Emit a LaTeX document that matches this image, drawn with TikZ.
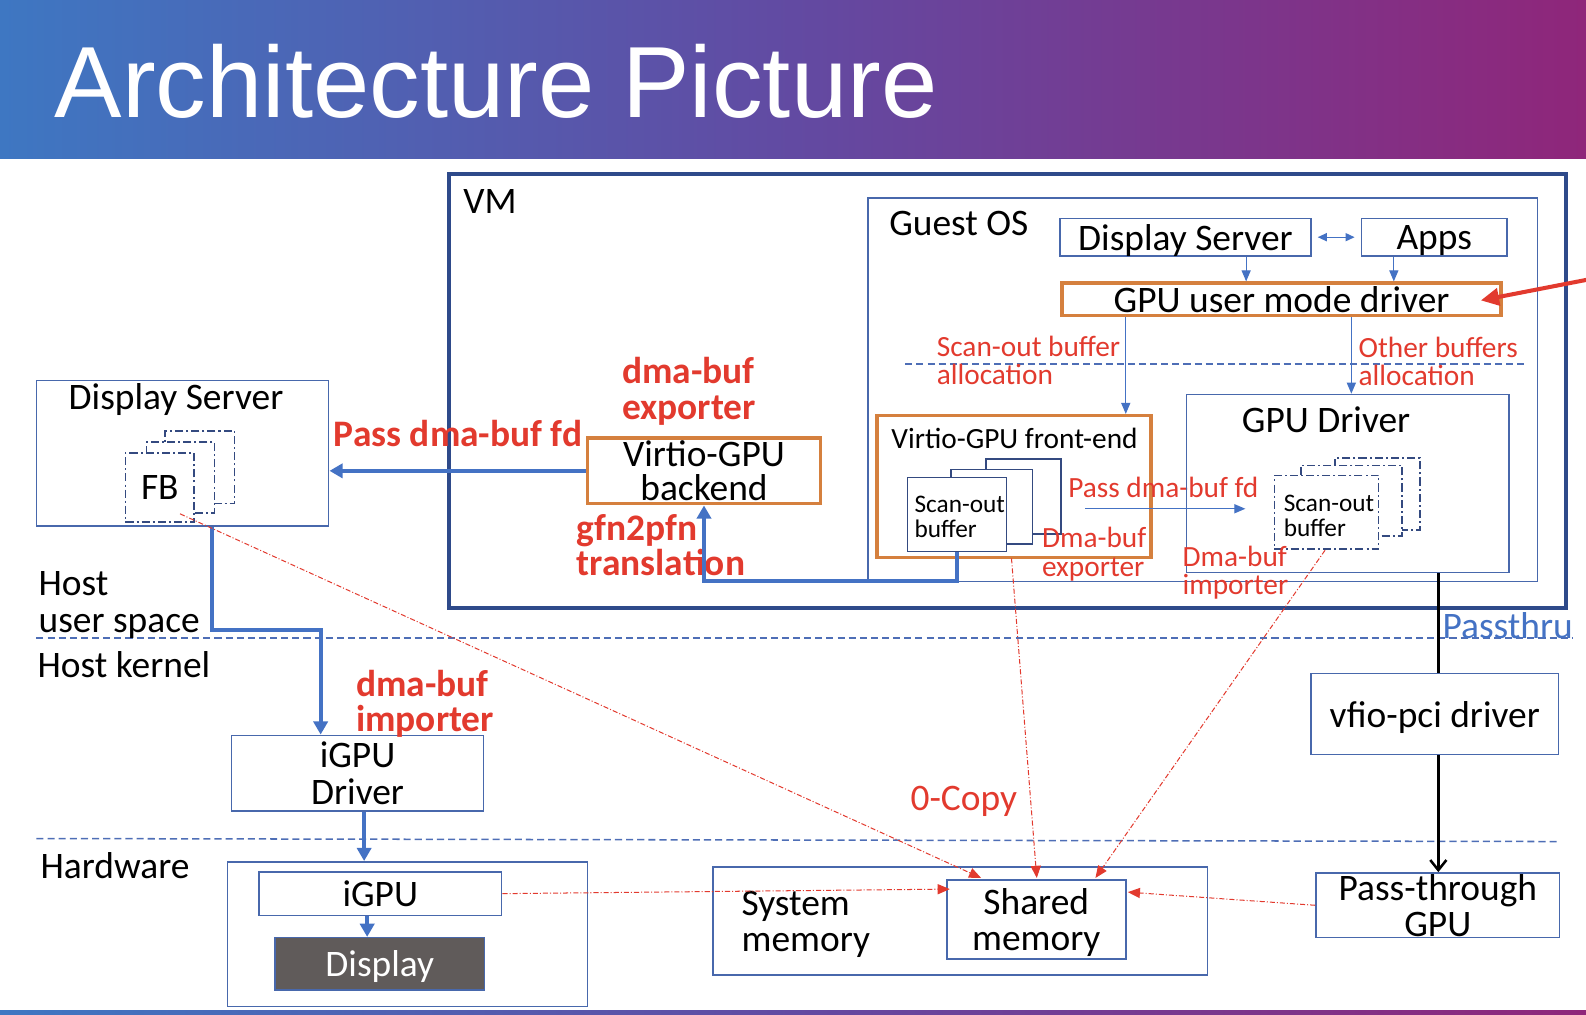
\documentclass[tikz,border=0pt]{standalone}
\usepackage{fontspec}
\setmainfont{Carlito}
\newfontfamily\titlefont{Liberation Sans}
\usetikzlibrary{arrows.meta,calc}
\definecolor{boxblue}{RGB}{72,104,172}
\definecolor{arrblue}{RGB}{68,114,196}
\definecolor{navy}{RGB}{46,74,138}
\definecolor{orng}{RGB}{213,128,62}
\definecolor{rd}{RGB}{226,58,46}
\definecolor{dgray}{RGB}{96,91,90}
\definecolor{dashblue}{RGB}{78,110,182}
\definecolor{stackblue}{RGB}{52,74,128}
\definecolor{hdA}{RGB}{62,119,194}
\definecolor{hdB}{RGB}{98,74,162}
\definecolor{hdC}{RGB}{143,38,122}
\newcommand\fs[2]{\fontsize{#1}{#2}\selectfont}
\newcommand\mkbox[8][]{\node[#2,#1,minimum width={#6-#4},minimum height={#7-#5}] (#3) at ({(#4+#6)/2},{(#5+#7)/2}) {#8};}
\begin{document}
\begin{tikzpicture}[x=1pt,y=-1pt,
  box/.style={draw=boxblue, line width=1.5pt, inner sep=0pt, align=center, font=\fs{37}{36}, text=black, text depth=0pt},
  obox/.style={draw=orng, line width=3.5pt, inner sep=0pt, align=center, font=\fs{37}{34}, text depth=0pt},
  stackbox/.style={draw=stackblue, line width=1.5pt, fill=white, inner sep=0pt},
  dstack/.style={draw=stackblue, line width=1.5pt, fill=white, inner sep=0pt, dash pattern=on 8pt off 3pt on 2pt off 3pt},
  lbl/.style={inner sep=0pt, font=\fs{37}{36}, align=left},
  rlbl/.style={inner sep=0pt, text=rd, font=\bfseries\fs{37}{35}, align=left},
  srlbl/.style={inner sep=0pt, text=rd, font=\fs{29}{28}, align=left},
  thinarr/.style={draw=arrblue, line width=1.3pt, -{Triangle[length=11pt,width=9pt]}},
  thickarr/.style={draw=arrblue, line width=4pt, -{Triangle[length=13pt,width=14pt]}},
  redarr/.style={draw=rd, line width=1pt, dash pattern=on 5pt off 2pt on 1pt off 2pt, -{Triangle[length=12pt,width=10pt]}},
  dline/.style={draw=dashblue, line width=1.5pt, dash pattern=on 7pt off 4pt}
]
\useasboundingbox (0,0) rectangle (1568,1002.5);
% header
\shade[left color=hdA, right color=hdC, middle color=hdB] (0,0) rectangle (1568,157);
\node[anchor=base west, inner sep=0pt, text=white, font=\titlefont\fs{100}{100}] (title) at (54,116) {Architecture Picture};
\shade[left color=hdA, right color=hdC, middle color=hdB] (0,999.5) rectangle (1568,1002.5);

% dashed separators
\draw[dline] (36,631) -- (1555,631);
\draw[dline] (36,829) -- (1541,832);
\draw[dline, line width=1.3pt] (895,360) -- (1510,360);

% VM
\mkbox[draw=navy, line width=4pt]{box}{vm}{444}{172}{1548}{601}{}
\node[lbl, anchor=west] (vmlbl) at (458,199) {VM};
% Guest OS
\mkbox{box}{guest}{858}{196}{1520}{575}{}
\node[lbl, anchor=west] (guestlbl) at (879,221) {Guest OS};
\mkbox{box}{gds}{1048}{216}{1296}{253}{Display Server}
\mkbox{box}{apps}{1346}{216}{1490}{253}{Apps}
\mkbox{obox}{umd}{1050}{280}{1484}{312}{GPU user mode driver}
\node[srlbl, anchor=west] (scanlbl) at (926,356) {Scan-out buffer\\allocation};
\node[srlbl, anchor=west] (otherlbl) at (1343,357) {Other buffers\\allocation};

% Virtio-GPU front-end
\mkbox{obox}{fe}{867}{411}{1138}{551}{}
\node[inner sep=0pt, font=\fs{29}{28}] (felbl) at (1003,433) {Virtio-GPU front-end};
\mkbox{stackbox}{feback}{975}{454}{1049}{528}{}
\mkbox{stackbox}{femid}{940}{464}{1021}{538}{}
\mkbox{stackbox}{fefront}{897}{472}{995}{545}{}
\node[inner sep=0pt, font=\fs{25}{24}, align=left, anchor=west] (fefrontlbl) at (904,511) {Scan-out\\buffer};
\node[srlbl, anchor=west] (passlbl2) at (1056,482) {Pass dma-buf fd};
\node[srlbl, anchor=west] (explbl2) at (1030,548) {Dma-buf\\exporter};

% GPU Driver
\mkbox{box}{gpud}{1173}{390}{1492}{566}{}
\node[inner sep=0pt, font=\fs{37}{36}] (gpudlbl) at (1311,415) {GPU Driver};
\mkbox{dstack}{gdback}{1320}{453}{1404}{524}{}
\mkbox{dstack}{gdmid}{1286}{460}{1386}{530}{}
\mkbox{dstack}{gdfront}{1260}{470}{1363}{543}{}
\node[inner sep=0pt, font=\fs{25}{24}, align=left, anchor=west] (gdfrontlbl) at (1269,510) {Scan-out\\buffer};
\node[srlbl, anchor=west] (implbl2) at (1169,566) {Dma-buf\\importer};

% Virtio-GPU backend
\mkbox{obox}{backend}{581}{433}{811}{498}{Virtio-GPU\\backend}
\node[rlbl, anchor=west] (explbl) at (615,387) {dma-buf\\exporter};
\node[rlbl, anchor=west] (passlbl) at (330,429) {Pass dma-buf fd};
\node[rlbl, anchor=west] (gfnlbl) at (570,539) {gfn2pfn\\translation};

% Host display server
\mkbox{box}{hds}{36}{376}{325}{520}{}
\node[inner sep=0pt, font=\fs{37}{36}] (hdslbl) at (174,395) {Display Server};
\mkbox{dstack}{fbback}{163}{426}{232}{498}{}
\mkbox{dstack}{fbmid}{145}{437}{212}{507}{}
\mkbox[font=\fs{37}{36}]{dstack}{fbfront}{124}{448}{192}{516}{FB}

\node[lbl, anchor=west] (hus) at (38,598) {Host\\user space};
\node[lbl, anchor=west] (hk) at (37,657) {Host kernel};
\node[inner sep=0pt, font=\fs{37}{36}, text=arrblue, anchor=west] (passthru) at (1426,619) {Passthru};

% kernel
\mkbox{box}{igd}{229}{727}{478}{802}{iGPU\\Driver}
\node[rlbl, anchor=west] (implbl) at (352,696) {dma-buf\\importer};
\mkbox{box}{vfio}{1296}{666}{1541}{746}{vfio-pci driver}
\node[inner sep=0pt, text=rd, font=\fs{37}{36}, anchor=west] (zcopy) at (900,792) {0-Copy};

% hardware
\node[lbl, anchor=west] (hwlbl) at (40,856) {Hardware};
\mkbox{box}{hw}{225}{852}{581}{995}{}
\mkbox{box}{igpu}{256}{862}{496}{905}{iGPU}
\mkbox[fill=dgray, text=white]{box}{disp}{272}{927}{479}{979}{Display}
\mkbox{box}{sysmem}{705}{857}{1194}{964}{}
\node[lbl, anchor=west] (sysmemlbl) at (733,914) {System\\memory};
\mkbox{box}{shared}{936}{870}{1113}{948}{Shared\\memory}
\mkbox{box}{ptgpu}{1301}{863}{1542}{927}{Pass-through\\GPU}

% coordinates for connectors
\coordinate (xa) at (1232,0);
\coordinate (xb) at (1378,0);
\coordinate (xc) at (1113,0);
\coordinate (xd) at (1336,0);
\coordinate (yp) at (0,503);
\coordinate (yl) at (0,574);
\coordinate (yh) at (0,623);
\coordinate (xh1) at (210,0);
\coordinate (xh2) at (317,0);
\coordinate (xi) at (360,0);
\coordinate (xj) at (363,0);
\coordinate (xv) at (1422,0);
\coordinate (redsrc) at (1572,276);
\coordinate (redtip) at (1464,297);
\coordinate (fbsrc) at (178,508);
\coordinate (fesrc) at (1000,552);
\coordinate (gdsrc) at (1310,544);
\coordinate (tA) at (970,868);
\coordinate (tB) at (1025,868);
\coordinate (tC) at (1083,868);
\coordinate (tD) at (939,879);
\coordinate (tE) at (1115,882);

% connectors guest
\draw[draw=arrblue, line width=1.3pt, {Triangle[length=9pt,width=8pt]}-{Triangle[length=9pt,width=8pt]}, shorten <=6pt, shorten >=6pt] (gds.east) -- (apps.west);
\draw[thinarr] (xa |- gds.south) -- (xa |- umd.north);
\draw[thinarr] (xb |- apps.south) -- (xb |- umd.north);
\draw[thinarr] (xc |- umd.south) -- (xc |- fe.north);
\draw[thinarr] (xd |- umd.south) -- (xd |- gpud.north);
\draw[thinarr, shorten <=23pt, shorten >=28pt] (feback.east |- yp) -- (gdfront.west |- yp);
\draw[draw=rd, line width=4pt, -{Triangle[length=18pt,width=17pt]}] (redsrc) -- (redtip);

% thick blue
\draw[thickarr] (backend.west) -- (hds.east |- backend.west);
\draw[thickarr] (fefront.south) -- (fefront.south |- yl) -| (backend.south);
\draw[thickarr] (xh1 |- hds.south) -- (xh1 |- yh) -| (xh2 |- igd.north);
\draw[thickarr] (xi |- igd.south) -- (xi |- hw.north);
\draw[thickarr] (xj |- igpu.south) -- (xj |- disp.north);

% black passthru
\draw[line width=2.5pt] (xv |- gpud.south) -- (xv |- vfio.north);
\draw[line width=2.5pt, -{Straight Barb[length=10pt,width=16pt]}] (xv |- vfio.south) -- (xv |- ptgpu.north);

% red zero-copy
\draw[redarr] (fbsrc) -- (tA);
\draw[redarr] (fesrc) -- (tB);
\draw[redarr] (gdsrc) -- (tC);
\draw[redarr] (igpu.east) -- (tD);
\draw[redarr] (ptgpu.west) -- (tE);
\end{tikzpicture}
\end{document}
